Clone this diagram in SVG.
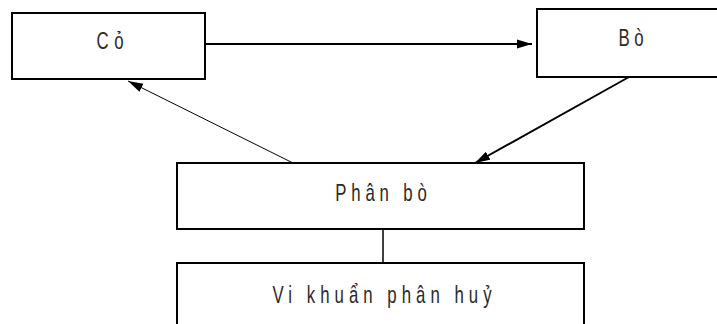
<svg xmlns="http://www.w3.org/2000/svg" width="717" height="324" viewBox="0 0 717 324">
<style>
.box{fill:#fff;stroke:#000;stroke-width:2}
.lbl{font-family:"Liberation Sans",Arial,sans-serif;font-size:24px;fill:#2a2a2a;text-anchor:middle}
.con{fill:none;stroke:#000}
</style>
<defs>
<marker id="ah" markerUnits="userSpaceOnUse" markerWidth="15" markerHeight="10" refX="15" refY="5" orient="auto">
<path d="M0,0.5 L15,5 L0,9.5 Z" fill="#000"/>
</marker>
</defs>
<rect width="717" height="324" fill="#fff"/>
<g id="co">
<rect class="box" x="12" y="13" width="193" height="66"/>
<text class="lbl" transform="translate(110 49) scale(0.7 1)" textLength="38.5" lengthAdjust="spacing">Cỏ</text>
</g>
<g id="bo">
<rect class="box" x="537" y="9" width="190" height="68"/>
<text class="lbl" transform="translate(631 46) scale(0.7 1)" textLength="36" lengthAdjust="spacing">Bò</text>
</g>
<g id="phanbo">
<rect class="box" x="177" y="163" width="407" height="66"/>
<text class="lbl" transform="translate(381 201) scale(0.7 1)" textLength="131" lengthAdjust="spacing">Phân bò</text>
</g>
<g id="vikhuan">
<rect class="box" x="177" y="263" width="407" height="70"/>
<text class="lbl" transform="translate(382 303) scale(0.7 1)" textLength="313" lengthAdjust="spacing">Vi khuẩn phân huỷ</text>
</g>
<g id="connectors">
<line class="con" x1="206" y1="44" x2="532" y2="44" stroke-width="2" marker-end="url(#ah)"/>
<line class="con" x1="629" y1="77" x2="475" y2="163" stroke-width="2" marker-end="url(#ah)"/>
<line class="con" x1="293" y1="163" x2="128" y2="81" stroke-width="1" marker-end="url(#ah)"/>
<line class="con" x1="383" y1="229" x2="383" y2="263" stroke-width="1.5"/>
</g>
</svg>
